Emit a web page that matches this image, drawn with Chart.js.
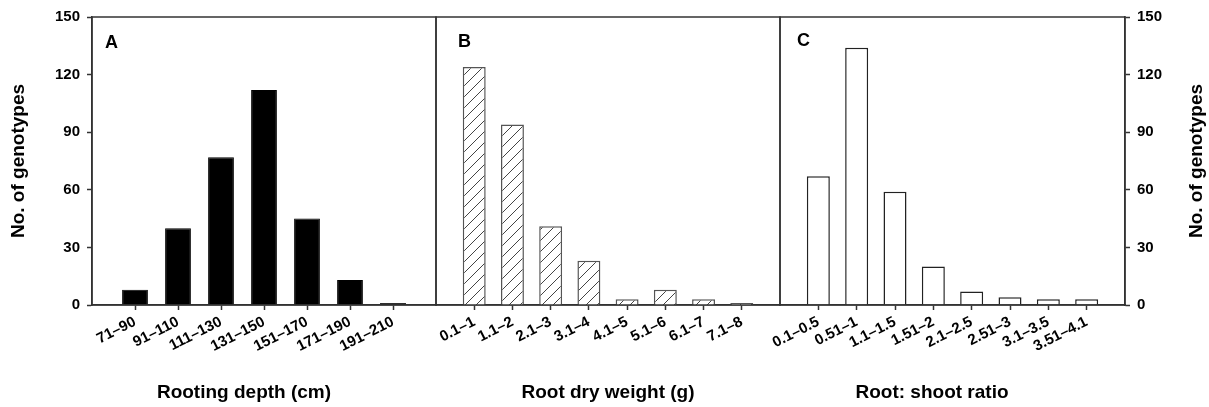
<!DOCTYPE html>
<html><head><meta charset="utf-8">
<script src="https://cdn.jsdelivr.net/npm/chart.js@4.4.1/dist/chart.umd.min.js"></script>
<style>
html,body{margin:0;padding:0;background:#fff;width:1209px;height:407px;overflow:hidden}
canvas{position:absolute;left:0;top:0}
</style></head><body>
<canvas id="ca" width="1209" height="407"></canvas>
<canvas id="cb" width="1209" height="407"></canvas>
<canvas id="cc" width="1209" height="407"></canvas>
<script>
const depthLabels = ['71–90','91–110','111–130','131–150','151–170','171–190','191–210'];
const depthCounts = [8,40,77,112,45,13,1];
const weightLabels = ['0.1–1','1.1–2','2.1–3','3.1–4','4.1–5','5.1–6','6.1–7','7.1–8'];
const weightCounts = [124,94,41,23,3,8,3,1];
const ratioLabels = ['0.1–0.5','0.51–1','1.1–1.5','1.51–2','2.1–2.5','2.51–3','3.1–3.5','3.51–4.1'];
const ratioCounts = [67,134,59,20,7,4,3,3];
const yMin = 0, yMax = 150, yStep = 30;

const FONT = "'Liberation Sans', Arial, sans-serif";
const AXIS = '#333';

function hatch() {
  const s = 11;
  const c = document.createElement('canvas'); c.width = s; c.height = s;
  const g = c.getContext('2d');
  g.fillStyle = '#fff'; g.fillRect(0, 0, s, s);
  g.strokeStyle = '#444'; g.lineWidth = 1;
  g.beginPath();
  g.moveTo(0, s); g.lineTo(s, 0);
  g.moveTo(-2, 2); g.lineTo(2, -2);
  g.moveTo(s - 2, s + 2); g.lineTo(s + 2, s - 2);
  g.stroke();
  return g.createPattern(c, 'repeat');
}

const panelPlugin = {
  id: 'panel',
  afterDraw(chart, args, o) {
    const {ctx, chartArea: a} = chart;
    ctx.save();
    ctx.strokeStyle = AXIS; ctx.lineWidth = 1.5;
    ctx.strokeRect(a.left, a.top, a.right - a.left, a.bottom - a.top);
    ctx.fillStyle = '#000';
    ctx.font = `bold 18px ${FONT}`;
    ctx.textAlign = 'left'; ctx.textBaseline = 'alphabetic';
    ctx.fillText(o.letter, a.left + o.letterDx, o.letterY);
    ctx.font = `bold 19px ${FONT}`;
    ctx.textAlign = 'center'; ctx.textBaseline = 'middle';
    ctx.fillText(o.xTitle, o.xTitleX, 393);
    if (o.rightTitle) {
      ctx.translate(1197, (a.top + a.bottom) / 2);
      ctx.rotate(-Math.PI / 2);
      ctx.fillText(o.rightTitle, 0, 0);
    }
    ctx.restore();
  }
};

function makeChart(id, p) {
  const n = p.labels.length;
  const tickFont = {family: FONT, size: 15, weight: 'bold'};
  return new Chart(document.getElementById(id), {
    type: 'bar',
    data: {
      datasets: [{
        data: p.values.map((v, i) => ({x: i + 1, y: v})),
        backgroundColor: p.fill,
        borderColor: p.border,
        borderWidth: p.bw,
        barPercentage: 0.6,
        categoryPercentage: 1
      }]
    },
    options: {
      responsive: false, animation: false, devicePixelRatio: 1,
      layout: {padding: {left: p.padL, right: p.padR, top: 17, bottom: 0}},
      plugins: {
        legend: {display: false}, tooltip: {enabled: false},
        panel: {letter: p.letter, letterDx: p.letterDx, letterY: p.letterY, xTitle: p.xTitle, xTitleX: p.xTitleX, rightTitle: p.rightTitle}
      },
      scales: {
        x: {
          type: 'linear', min: 0, max: n + 1, offset: false,
          ticks: {stepSize: 1, autoSkip: false, minRotation: 27, maxRotation: 27, padding: 3, color: '#000', font: tickFont,
            callback: v => (p.labels[v - 1] !== undefined ? p.labels[v - 1] : null)},
          grid: {offset: false, drawOnChartArea: false, drawTicks: true, tickLength: 5, tickWidth: 1.5, tickColor: AXIS},
          border: {display: true, color: AXIS, width: 1.5},
          afterFit: s => { s.height = 102; }
        },
        y: {
          display: !!p.yPos, position: p.yPos || 'left', min: yMin, max: yMax,
          ticks: {stepSize: yStep, padding: 7, color: '#000', font: tickFont},
          grid: {drawOnChartArea: false, drawTicks: true, tickLength: 5, tickWidth: 1.5, tickColor: AXIS},
          border: {display: true, color: AXIS, width: 1.5},
          title: {display: p.yPos === 'left', text: 'No. of genotypes', color: '#000',
            font: {family: FONT, size: 19, weight: 'bold'}, padding: {top: 7, bottom: 0}},
          afterFit: s => { if (p.yWidth) s.width = p.yWidth; }
        }
      }
    },
    plugins: [panelPlugin]
  });
}

makeChart('ca', {labels: depthLabels, values: depthCounts, fill: '#000', border: '#000', bw: 1,
  padL: 0, padR: 1209 - 436, yPos: 'left', yWidth: 92,
  letter: 'A', letterDx: 13, letterY: 48, xTitle: 'Rooting depth (cm)', xTitleX: 244});
makeChart('cb', {labels: weightLabels, values: weightCounts, fill: hatch(), border: '#555', bw: 1.5,
  padL: 436, padR: 1209 - 780, yPos: null,
  letter: 'B', letterDx: 22, letterY: 47, xTitle: 'Root dry weight (g)', xTitleX: 608});
makeChart('cc', {labels: ratioLabels, values: ratioCounts, fill: '#fff', border: '#222', bw: 1.5,
  padL: 780, padR: 0, yPos: 'right', yWidth: 84,
  letter: 'C', letterDx: 17, letterY: 46, xTitle: 'Root: shoot ratio', xTitleX: 932, rightTitle: 'No. of genotypes'});
</script>
</body></html>
